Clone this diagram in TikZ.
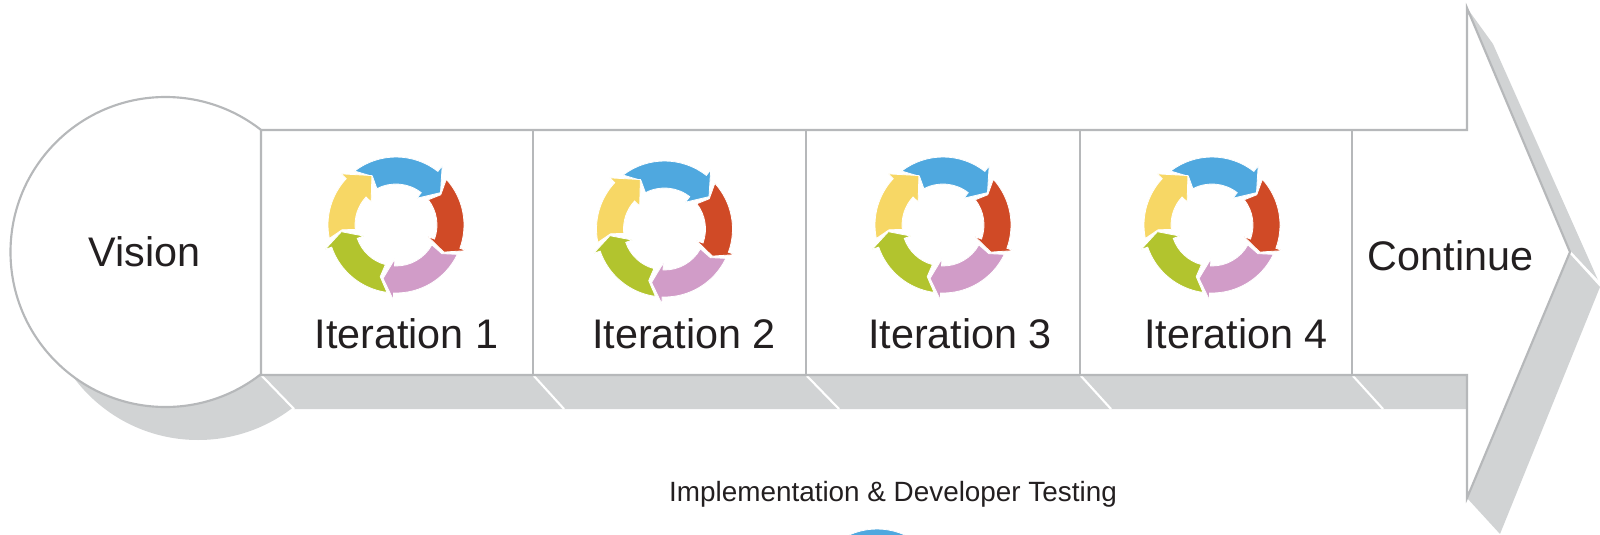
\documentclass[tikz,border=0pt]{standalone}
\usepackage{fontspec}
\setmainfont{Liberation Sans}
\definecolor{myblue}{RGB}{79, 168, 223}
\definecolor{myred}{RGB}{208, 74, 38}
\definecolor{mypink}{RGB}{209, 156, 200}
\definecolor{mygreen}{RGB}{178, 196, 46}
\definecolor{myyellow}{RGB}{247, 215, 101}
\definecolor{mygrey}{RGB}{209, 211, 212}
\definecolor{myline}{RGB}{182, 184, 186}
\definecolor{myink}{RGB}{35, 31, 32}
\tikzset{every picture/.style={line width=0.75pt}}
\tikzset{
  outline/.style={draw=myline, line width=1.6pt},
  slit/.style={draw=white, line width=1.6pt},
  bigtext/.style={inner sep=0.75pt, text=myink, font=\fontsize{31}{36}\selectfont},
  smalltext/.style={inner sep=0.75pt, text=myink, font=\fontsize{20.9}{24}\selectfont},
  ringpiece/.style={draw=white, line width=0.6pt, line join=miter}
}
% one arrow of a ring: colour, tail outer, tail inner, notch, neck, tip (angles)
\newcommand{\ringarrow}[6]{
  \draw [ringpiece, fill=#1] (#2:68) arc [start angle=#2, end angle=#5, radius=68] -- (#5:75) -- (#6:55) -- (#5:34) -- (#5:41) arc [start angle=#5, end angle=#3, radius=41] -- (#4:54) -- cycle ;
}
\newcommand{\ringcycle}[2]{
  \begin{scope}[shift={(#1,#2)}]
  \ringarrow{myblue}{-127.5}{-117.7}{-115.8}{-52}{-36}
  \ringarrow{myred}{-42.2}{-38}{-34}{20}{29.5}
  \ringarrow{mypink}{25.6}{29}{32}{92}{103.6}
  \ringarrow{mygreen}{97.6}{105}{107}{161}{173}
  \ringarrow{myyellow}{168.6}{173.6}{175}{223}{244}
  \end{scope}
}

\begin{document}
\begin{tikzpicture}[x=0.75pt,y=0.75pt,yscale=-1,xscale=1]
\path [use as bounding box, clip] (0,0) rectangle (1600,535);

%Shape: Circle shadow
\begin{scope}
\clip (0,252) -- (262,376) -- (292,408) -- (292,470) -- (0,470) -- cycle ;
\fill [mygrey] (198,285) circle [radius=155] ;
\end{scope}
%Shape: Band shadow
\fill [mygrey] (262,375) -- (1467,375) -- (1467,409) -- (294,409) -- cycle ;
%Shape: Upper head shadow
\fill [mygrey] (1467,8) -- (1493,44) -- (1598,280) -- (1570,252) -- cycle ;
%Shape: Lower head shadow
\fill [mygrey] (1570,254) -- (1600,287) -- (1500,534) -- (1467,498) -- cycle ;
%Straight Lines
\draw [slit] (262,376) -- (294,409) ;
\draw [slit] (534,376) -- (564,409) ;
\draw [slit] (807,376) -- (839,409) ;
\draw [slit] (1081,376) -- (1111,409) ;
\draw [slit] (1353,376) -- (1383,409) ;
\draw [slit] (1570,252) -- (1600,284) ;

%Shape: Circle
\draw [outline, fill=white] (165.5,252) circle [radius=155] ;
%Shape: Arrow
\draw [outline, fill=white, line join=miter] (261,130) -- (1467,130) -- (1467,8) -- (1570,252) -- (1467,498) -- (1467,375) -- (261,375) -- cycle ;
%Straight Lines
\draw [outline] (533,130) -- (533,375) ;
\draw [outline] (806,130) -- (806,375) ;
\draw [outline] (1080,130) -- (1080,375) ;
\draw [outline] (1352,130) -- (1352,375) ;

%Shape: Rings
\ringcycle{396}{225}
\ringcycle{664.5}{229}
\ringcycle{943}{225}
\ringcycle{1212}{225}
\ringcycle{877}{597}

% Text Node
\node [bigtext] (vision) at (144.5,252) {Vision};
% Text Node
\node [bigtext] (iterone) at (406.5,334) {Iteration 1};
% Text Node
\node [bigtext] (itertwo) at (684,334) {Iteration 2};
% Text Node
\node [bigtext] (iterthree) at (960,334) {Iteration 3};
% Text Node
\node [bigtext] (iterfour) at (1236,334) {Iteration 4};
% Text Node
\node [bigtext] (continue) at (1450.5,256) {Continue};
% Text Node
\node [smalltext] (testing) at (893,494) {Implementation \& Developer Testing};

\end{tikzpicture}
\end{document}
